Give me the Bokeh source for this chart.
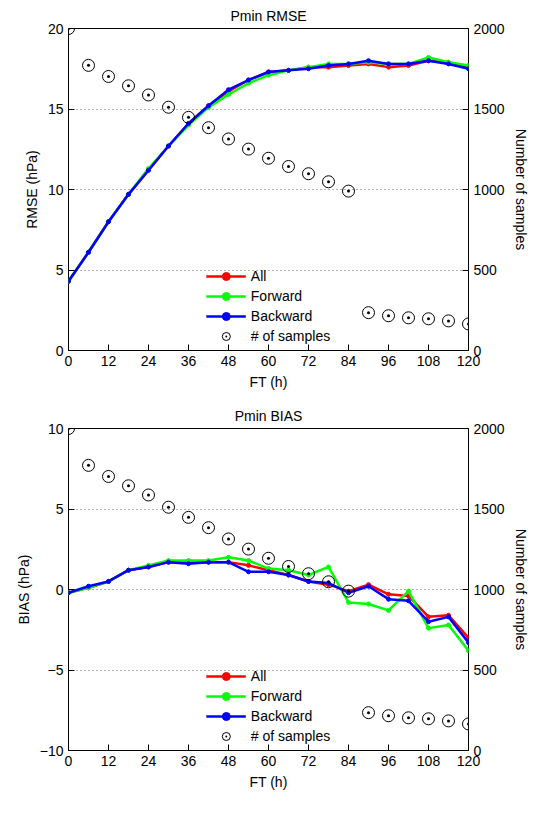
from bokeh.plotting import figure
from bokeh.models import Range1d, LinearAxis, FixedTicker, Legend, LegendItem
from bokeh.layouts import column
from bokeh.embed import file_html
from bokeh.resources import INLINE

ft = [0, 6, 12, 18, 24, 30, 36, 42, 48, 54, 60, 66, 72, 78, 84, 90, 96, 102, 108, 114, 120]
samples = [2000, 1771, 1702, 1644, 1587, 1511, 1448, 1384, 1314, 1251, 1194, 1143, 1098, 1048, 990,
           235, 216, 203, 197, 184, 165]
rmse_all = [4.3, 6.1, 8.0, 9.7, 11.2, 12.7, 14.1, 15.2, 16.1, 16.8, 17.3, 17.4, 17.6, 17.6, 17.7,
            17.8, 17.6, 17.7, 18.0, 17.9, 17.6]
rmse_fwd = [4.3, 6.1, 8.0, 9.7, 11.3, 12.7, 14.0, 15.1, 15.9, 16.6, 17.1, 17.4, 17.6, 17.8, 17.8,
            17.9, 17.8, 17.8, 18.2, 17.9, 17.7]
rmse_bwd = [4.3, 6.1, 8.0, 9.7, 11.2, 12.7, 14.1, 15.2, 16.2, 16.8, 17.3, 17.4, 17.5, 17.7, 17.8,
            18.0, 17.8, 17.8, 18.0, 17.8, 17.5]
bias_all = [-0.2, 0.1, 0.5, 1.2, 1.4, 1.7, 1.7, 1.7, 1.7, 1.5, 1.2, 0.9, 0.5, 0.3, -0.1,
            0.3, -0.3, -0.4, -1.7, -1.6, -3.0]
bias_fwd = [-0.2, 0.1, 0.5, 1.2, 1.5, 1.8, 1.8, 1.8, 2.0, 1.8, 1.3, 1.2, 0.9, 1.4, -0.8,
            -0.9, -1.3, -0.1, -2.4, -2.2, -3.8]
bias_bwd = [-0.2, 0.2, 0.5, 1.2, 1.4, 1.7, 1.6, 1.7, 1.7, 1.1, 1.1, 0.9, 0.5, 0.4, -0.2,
            0.2, -0.6, -0.7, -2.0, -1.7, -3.3]

FONT = "Liberation Sans"

def make(title, ylabel, yr, ystep, a, f, b):
    p = figure(width=531, height=400, output_backend="svg", toolbar_location=None,
               x_range=Range1d(0, 120), y_range=Range1d(*yr), title=title,
               min_border_left=68, min_border_right=53, min_border_top=8, min_border_bottom=50)
    p.title.align = "center"
    p.title.text_font = FONT
    p.title.text_font_size = "10.5pt"
    p.title.text_font_style = "normal"
    p.title.text_color = "black"
    p.outline_line_color = "black"
    p.outline_line_width = 1
    p.extra_y_ranges = {"n": Range1d(0, 2000)}
    p.xgrid.visible = False
    p.ygrid.grid_line_color = "black"
    p.ygrid.grid_line_dash = "1 3"
    p.ygrid.grid_line_alpha = 0.6
    p.xaxis.ticker = FixedTicker(ticks=list(range(0, 121, 12)))
    p.yaxis.ticker = FixedTicker(ticks=[yr[0] + i * ystep for i in range(int((yr[1] - yr[0]) / ystep) + 1)])
    p.xaxis.axis_label = "FT (h)"
    p.yaxis.axis_label = ylabel
    ra = LinearAxis(y_range_name="n", axis_label="Number of samples",
                    ticker=FixedTicker(ticks=[0, 500, 1000, 1500, 2000]))
    p.add_layout(ra, "right")
    for ax in [p.xaxis[0], p.yaxis[0], ra]:
        ax.major_tick_in = 6
        ax.major_tick_out = 0
        ax.major_tick_line_color = "black"
        ax.minor_tick_line_color = None
        ax.axis_line_color = None
        ax.major_label_text_font = FONT
        ax.major_label_text_font_size = "10.5pt"
        ax.major_label_text_color = "black"
        ax.axis_label_text_font = FONT
        ax.axis_label_text_font_size = "10.5pt"
        ax.axis_label_text_font_style = "normal"
        ax.axis_label_text_color = "black"
    items = []
    for ys, c, name in [(a, "#ff0000", "All"), (f, "#00ff00", "Forward"), (b, "#0000ff", "Backward")]:
        l = p.line(ft, ys, line_color=c, line_width=2.5)
        s = p.scatter(ft, ys, color=c, size=4)
        items.append(LegendItem(label=name, renderers=[l, s]))
    c = p.scatter(ft, samples, y_range_name="n", marker="circle_dot", size=12,
                  fill_color=None, line_color="black", line_width=1)
    items.append(LegendItem(label="# of samples", renderers=[c]))
    leg = Legend(items=items, location="bottom_center", border_line_color=None,
                 background_fill_alpha=0, label_text_font=FONT, label_text_font_size="10.5pt",
                 label_text_color="black", spacing=-4, glyph_width=40, margin=4)
    p.add_layout(leg)
    return p

p1 = make("Pmin RMSE", "RMSE (hPa)", (0, 20), 5, rmse_all, rmse_fwd, rmse_bwd)
p2 = make("Pmin BIAS", "BIAS (hPa)", (-10, 10), 5, bias_all, bias_fwd, bias_bwd)
lay = column(p1, p2)
open("out.html", "w").write(file_html(lay, INLINE))
